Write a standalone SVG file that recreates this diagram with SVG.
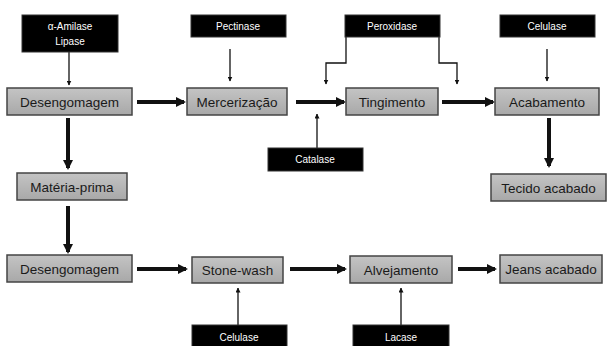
<svg xmlns="http://www.w3.org/2000/svg" width="608" height="346" viewBox="0 0 608 346">
<defs>
<linearGradient id="g" x1="0" y1="0" x2="0" y2="1">
<stop offset="0" stop-color="#c4c4c4"/>
<stop offset="1" stop-color="#a8a8a8"/>
</linearGradient>
<marker id="ah" viewBox="0 0 10 10" refX="9" refY="5" markerWidth="5" markerHeight="5" orient="auto" markerUnits="userSpaceOnUse">
<path d="M0,0 L10,5 L0,10 z" fill="#111"/>
</marker>
<marker id="at" viewBox="0 0 10 10" refX="8" refY="5" markerWidth="10" markerHeight="10" orient="auto" markerUnits="userSpaceOnUse">
<path d="M0,0 L10,5 L0,10 z" fill="#111"/>
</marker>
</defs>
<style>
.n rect{fill:url(#g);stroke:#444;stroke-width:1.5}
.n text{font-family:"Liberation Sans",Arial,sans-serif;font-size:13.5px;fill:#1a1a1a;text-anchor:middle}
.e rect{fill:#000;stroke:#333;stroke-width:1}
.e text{font-family:"Liberation Sans",Arial,sans-serif;font-size:10px;fill:#fff;text-anchor:middle}
.thin{stroke:#111;stroke-width:1.3;fill:none;marker-end:url(#ah)}
.thick{stroke:#111;stroke-width:4;fill:none;marker-end:url(#at)}
</style>
<rect width="608" height="346" fill="#fff"/>
<g id="connectors">
<path class="thin" d="M69,52 V85"/>
<path class="thin" d="M230,49 V81"/>
<path class="thin" d="M346,37 V63 H326 V84"/>
<path class="thin" d="M439,37 V63 H457 V84"/>
<path class="thin" d="M547,49 V81"/>
<path class="thin" d="M317,148 V114"/>
<path class="thin" d="M238,325 V288"/>
<path class="thin" d="M401,325 V288"/>
<path class="thick" d="M137,102 H184"/>
<path class="thick" d="M296,102 H344"/>
<path class="thick" d="M442,102 H493"/>
<path class="thick" d="M549,118 V166"/>
<path class="thick" d="M68,118 V168"/>
<path class="thick" d="M68,206 V252"/>
<path class="thick" d="M137,269 H186"/>
<path class="thick" d="M290,269 H345"/>
<path class="thick" d="M458,269 H495"/>
</g>
<g id="e-amilase" class="e"><rect x="22" y="15" width="96" height="37"/><text x="70" y="30">α-Amilase</text><text x="70" y="45">Lipase</text></g>
<g id="e-pectinase" class="e"><rect x="191" y="15" width="95" height="22"/><text x="238" y="30">Pectinase</text></g>
<g id="e-peroxidase" class="e"><rect x="345" y="15" width="95" height="22"/><text x="392" y="30">Peroxidase</text></g>
<g id="e-celulase1" class="e"><rect x="500" y="15" width="95" height="22"/><text x="547" y="30">Celulase</text></g>
<g id="e-catalase" class="e"><rect x="268" y="148" width="95" height="23"/><text x="315" y="163">Catalase</text></g>
<g id="e-celulase2" class="e"><rect x="192" y="325" width="95" height="25"/><text x="239" y="341">Celulase</text></g>
<g id="e-lacase" class="e"><rect x="353" y="325" width="96" height="25"/><text x="401" y="341">Lacase</text></g>
<g id="n-desengomagem1" class="n"><rect x="7" y="88" width="125" height="27"/><text x="69.5" y="106.5">Desengomagem</text></g>
<g id="n-mercerizacao" class="n"><rect x="187" y="88" width="100" height="27"/><text x="237" y="106.5">Mercerização</text></g>
<g id="n-tingimento" class="n"><rect x="346" y="88" width="92" height="27"/><text x="392" y="106.5">Tingimento</text></g>
<g id="n-acabamento" class="n"><rect x="495" y="88" width="104" height="27"/><text x="547" y="106.5">Acabamento</text></g>
<g id="n-tecido" class="n"><rect x="491" y="174" width="115" height="27"/><text x="548.5" y="192.5">Tecido acabado</text></g>
<g id="n-materia" class="n"><rect x="17" y="173" width="110" height="27"/><text x="72" y="191.5">Matéria-prima</text></g>
<g id="n-desengomagem2" class="n"><rect x="7" y="255" width="125" height="27"/><text x="69.5" y="273.5">Desengomagem</text></g>
<g id="n-stonewash" class="n"><rect x="192" y="257" width="91" height="26"/><text x="237.5" y="275">Stone-wash</text></g>
<g id="n-alvejamento" class="n"><rect x="350" y="256" width="102" height="27"/><text x="401" y="274.5">Alvejamento</text></g>
<g id="n-jeans" class="n"><rect x="500" y="255" width="102" height="28"/><text x="551" y="274">Jeans acabado</text></g>
</svg>
